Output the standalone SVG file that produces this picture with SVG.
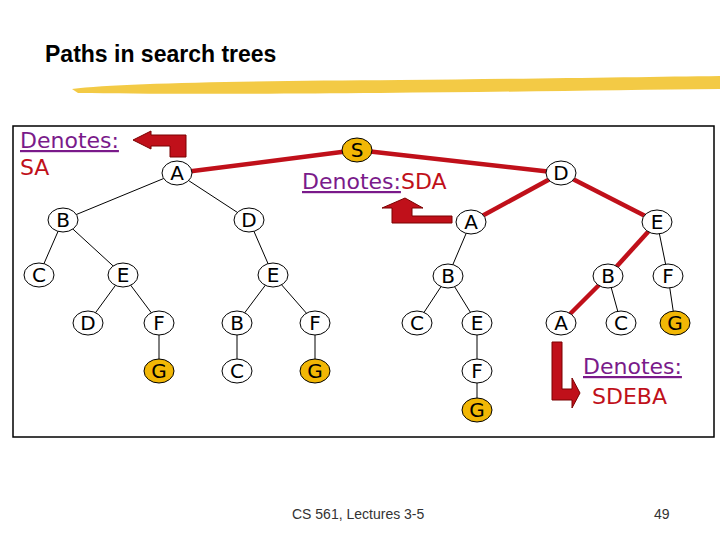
<svg xmlns="http://www.w3.org/2000/svg" width="720" height="540" viewBox="0 0 720 540">
<style>
.n ellipse{fill:#fff;stroke:#000;stroke-width:1}
.n.g ellipse{fill:#f2b705}
.n text{font-family:"DejaVu Sans",sans-serif;font-size:20px;text-anchor:middle;fill:#000}
.e{stroke:#000;stroke-width:1;fill:none}
.r{stroke:#c0101a;stroke-width:4.5;fill:none}
.den{font-family:"DejaVu Sans",sans-serif;font-size:22px;fill:#7a1a8a;text-decoration:underline}
.red{font-family:"DejaVu Sans",sans-serif;font-size:22px;fill:#c0101a}
.arr{fill:#c0101a;stroke:#7a0000;stroke-width:1}
</style>
<rect width="720" height="540" fill="#fff"/>
<text x="45" y="62" font-family="Liberation Sans,Arial,sans-serif" font-size="23" font-weight="bold" fill="#000">Paths in search trees</text>
<path d="M72,89 C120,83 250,81 400,80 C520,79 640,77 720,76 L720,89 C620,90 500,92 380,93 C250,94 140,94 78,93 Z" fill="#f2c431" opacity="0.9"/>
<rect x="13" y="126" width="701" height="311" fill="none" stroke="#000" stroke-width="1.5"/>
<g id="connectors">
<line class="r" x1="357" y1="150" x2="177" y2="173"/>
<line class="r" x1="357" y1="150" x2="561" y2="173"/>
<line class="e" x1="177" y1="173" x2="63" y2="220"/>
<line class="e" x1="177" y1="173" x2="249" y2="220"/>
<line class="r" x1="561" y1="173" x2="471" y2="222"/>
<line class="r" x1="561" y1="173" x2="657" y2="222"/>
<line class="e" x1="63" y1="220" x2="39" y2="275"/>
<line class="e" x1="63" y1="220" x2="123" y2="275"/>
<line class="e" x1="249" y1="220" x2="273" y2="275"/>
<line class="e" x1="471" y1="222" x2="448" y2="276"/>
<line class="r" x1="657" y1="222" x2="608" y2="276"/>
<line class="e" x1="657" y1="222" x2="668" y2="276"/>
<line class="e" x1="123" y1="275" x2="88" y2="323"/>
<line class="e" x1="123" y1="275" x2="159" y2="323"/>
<line class="e" x1="273" y1="275" x2="237" y2="323"/>
<line class="e" x1="273" y1="275" x2="315" y2="323"/>
<line class="e" x1="448" y1="276" x2="417" y2="323"/>
<line class="e" x1="448" y1="276" x2="477" y2="323"/>
<line class="r" x1="608" y1="276" x2="561" y2="323"/>
<line class="e" x1="608" y1="276" x2="621" y2="323"/>
<line class="e" x1="668" y1="276" x2="675" y2="323"/>
<line class="e" x1="159" y1="323" x2="159" y2="371"/>
<line class="e" x1="237" y1="323" x2="237" y2="371"/>
<line class="e" x1="315" y1="323" x2="315" y2="371"/>
<line class="e" x1="477" y1="323" x2="477" y2="371"/>
<line class="e" x1="477" y1="371" x2="477" y2="410"/>
</g>
<g id="nS" class="n g"><ellipse cx="357" cy="150" rx="15" ry="12"/><text x="357" y="157">S</text></g>
<g id="nA1" class="n"><ellipse cx="177" cy="173" rx="15" ry="12"/><text x="177" y="180">A</text></g>
<g id="nD1" class="n"><ellipse cx="561" cy="173" rx="15" ry="12"/><text x="561" y="180">D</text></g>
<g id="nB2" class="n"><ellipse cx="63" cy="220" rx="15" ry="12"/><text x="63" y="227">B</text></g>
<g id="nD2" class="n"><ellipse cx="249" cy="220" rx="15" ry="12"/><text x="249" y="227">D</text></g>
<g id="nA2" class="n"><ellipse cx="471" cy="222" rx="15" ry="12"/><text x="471" y="229">A</text></g>
<g id="nE2" class="n"><ellipse cx="657" cy="222" rx="15" ry="12"/><text x="657" y="229">E</text></g>
<g id="nC3" class="n"><ellipse cx="39" cy="275" rx="15" ry="12"/><text x="39" y="282">C</text></g>
<g id="nE3a" class="n"><ellipse cx="123" cy="275" rx="15" ry="12"/><text x="123" y="282">E</text></g>
<g id="nE3b" class="n"><ellipse cx="273" cy="275" rx="15" ry="12"/><text x="273" y="282">E</text></g>
<g id="nB3a" class="n"><ellipse cx="448" cy="276" rx="15" ry="12"/><text x="448" y="283">B</text></g>
<g id="nB3b" class="n"><ellipse cx="608" cy="276" rx="15" ry="12"/><text x="608" y="283">B</text></g>
<g id="nF3" class="n"><ellipse cx="668" cy="276" rx="15" ry="12"/><text x="668" y="283">F</text></g>
<g id="nD4" class="n"><ellipse cx="88" cy="323" rx="15" ry="12"/><text x="88" y="330">D</text></g>
<g id="nF4a" class="n"><ellipse cx="159" cy="323" rx="15" ry="12"/><text x="159" y="330">F</text></g>
<g id="nB4" class="n"><ellipse cx="237" cy="323" rx="15" ry="12"/><text x="237" y="330">B</text></g>
<g id="nF4b" class="n"><ellipse cx="315" cy="323" rx="15" ry="12"/><text x="315" y="330">F</text></g>
<g id="nC4a" class="n"><ellipse cx="417" cy="323" rx="15" ry="12"/><text x="417" y="330">C</text></g>
<g id="nE4" class="n"><ellipse cx="477" cy="323" rx="15" ry="12"/><text x="477" y="330">E</text></g>
<g id="nA4" class="n"><ellipse cx="561" cy="323" rx="15" ry="12"/><text x="561" y="330">A</text></g>
<g id="nC4b" class="n"><ellipse cx="621" cy="323" rx="15" ry="12"/><text x="621" y="330">C</text></g>
<g id="nG4" class="n g"><ellipse cx="675" cy="323" rx="15" ry="12"/><text x="675" y="330">G</text></g>
<g id="nG5a" class="n g"><ellipse cx="159" cy="371" rx="15" ry="12"/><text x="159" y="378">G</text></g>
<g id="nC5" class="n"><ellipse cx="237" cy="371" rx="15" ry="12"/><text x="237" y="378">C</text></g>
<g id="nG5b" class="n g"><ellipse cx="315" cy="371" rx="15" ry="12"/><text x="315" y="378">G</text></g>
<g id="nF5" class="n"><ellipse cx="477" cy="371" rx="15" ry="12"/><text x="477" y="378">F</text></g>
<g id="nG6" class="n g"><ellipse cx="477" cy="410" rx="15" ry="12"/><text x="477" y="417">G</text></g>
<g id="label-SA">
<text class="den" x="20" y="148">Denotes:</text>
<text class="red" x="20" y="175">SA</text>
<polygon class="arr" points="133,140 151,131 151,135 186,135 186,157 170,157 170,146 151,146 151,149"/>
</g>
<g id="label-SDA">
<text x="302" y="189"><tspan class="den">Denotes:</tspan><tspan class="red">SDA</tspan></text>
<polygon class="arr" points="405,198 423,208 412,208 412,216 452,216 452,223 392,223 392,208 382,208"/>
</g>
<g id="label-SDEBA">
<text class="den" x="583" y="374">Denotes:</text>
<text class="red" x="592" y="404">SDEBA</text>
<polygon class="arr" points="552,342 562,342 562,389 572,389 572,378 580,393 572,408 572,400 552,400"/>
</g>
<text x="292" y="519" font-family="Liberation Sans,Arial,sans-serif" font-size="14" fill="#333">CS 561,  Lectures 3-5</text>
<text x="654" y="519" font-family="Liberation Sans,Arial,sans-serif" font-size="14" fill="#333">49</text>
</svg>
